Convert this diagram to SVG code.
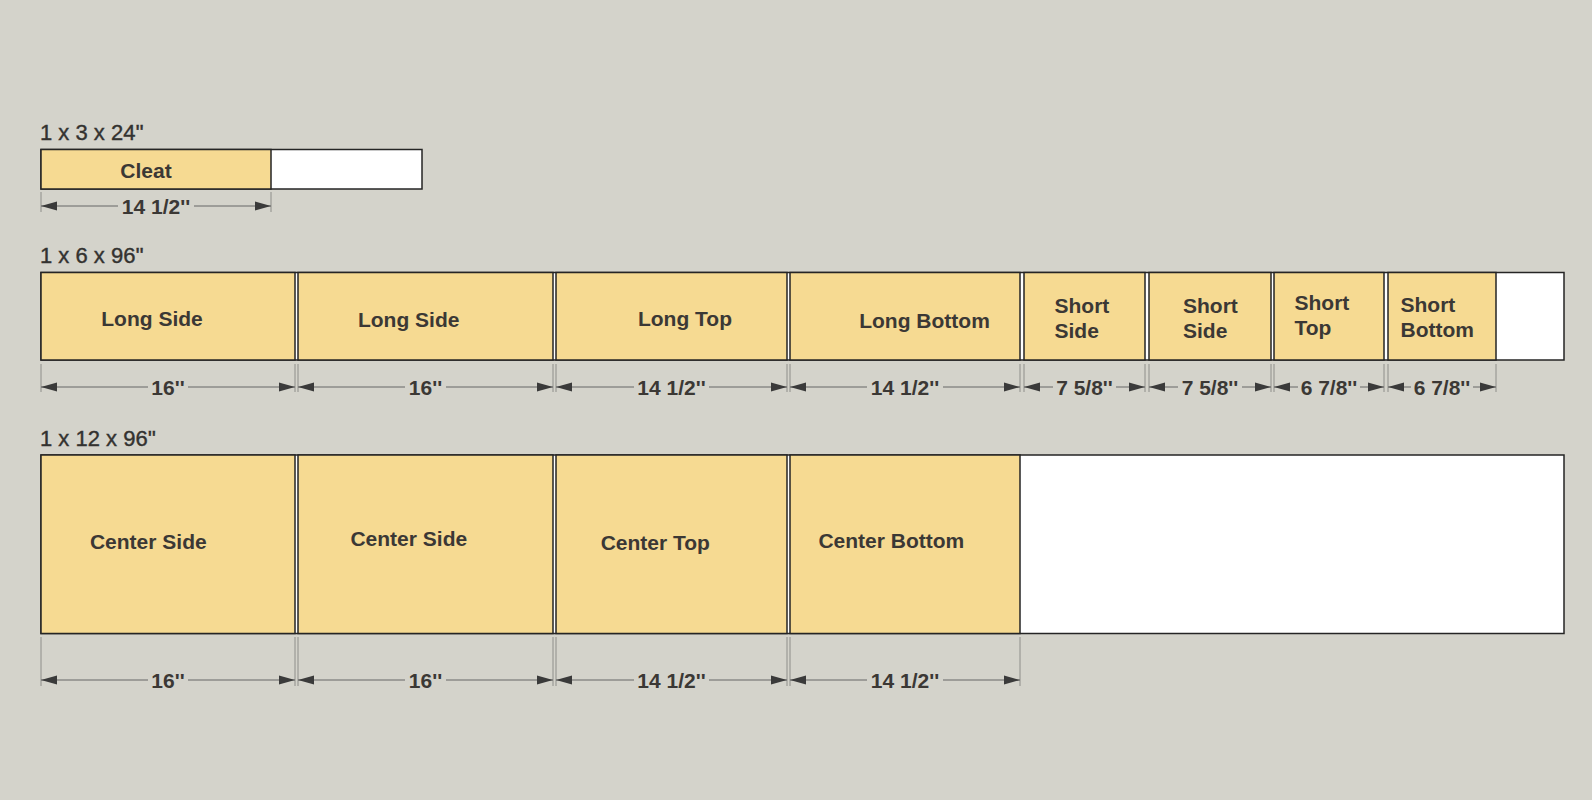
<svg xmlns="http://www.w3.org/2000/svg" width="1592" height="800" viewBox="0 0 1592 800">
<style>
.bg{fill:#d4d3cb}
.board{fill:#ffffff;stroke:#252525;stroke-width:1.5}
.piece{fill:#f6da92;stroke:#252525;stroke-width:1.5}
.title{font-family:"Liberation Sans",Arial,sans-serif;font-size:22px;fill:#333230;stroke:#333230;stroke-width:0.4}
.lbl{font-family:"Liberation Sans",Arial,sans-serif;font-weight:bold;font-size:21px;fill:#3b3835}
.dimt{font-family:"Liberation Sans",Arial,sans-serif;font-weight:bold;font-size:21px;fill:#3b3835;text-anchor:middle}
.dl{stroke:#666;stroke-width:1;fill:none;marker-start:url(#arr);marker-end:url(#arr)}
.ext{stroke:#8e8e8a;stroke-width:1}
</style>
<defs>
<marker id="arr" markerUnits="userSpaceOnUse" markerWidth="17" markerHeight="10" refX="16" refY="5" orient="auto-start-reverse">
<path d="M0,0.5 L16,5 L0,9.5 z" fill="#3a3a3a"/>
</marker>
</defs>
<rect class="bg" x="0" y="0" width="1592" height="800"/>

<g id="board-1x3x24">
<text class="title" x="40" y="140">1 x 3 x 24''</text>
<rect class="board" x="41" y="149.5" width="381" height="39.5"/>
</g>
<g id="cleat">
<rect class="piece" x="41" y="149.5" width="230" height="39.5"/>
<text class="lbl" x="146" y="178" text-anchor="middle">Cleat</text>
</g>

<g id="board-1x6x96">
<text class="title" x="40" y="263">1 x 6 x 96''</text>
<rect class="board" x="41" y="272.5" width="1523" height="87.5"/>
</g>
<g id="long-side-1">
<rect class="piece" x="41" y="272.5" width="254" height="87.5"/>
<text class="lbl" x="152" y="325.5" text-anchor="middle">Long Side</text>
</g>
<g id="long-side-2">
<rect class="piece" x="298" y="272.5" width="255" height="87.5"/>
<text class="lbl" x="408.7" y="326.5" text-anchor="middle">Long Side</text>
</g>
<g id="long-top">
<rect class="piece" x="556" y="272.5" width="231" height="87.5"/>
<text class="lbl" x="685" y="326" text-anchor="middle">Long Top</text>
</g>
<g id="long-bottom">
<rect class="piece" x="790" y="272.5" width="230" height="87.5"/>
<text class="lbl" x="924.5" y="328" text-anchor="middle">Long Bottom</text>
</g>
<g id="short-side-1">
<rect class="piece" x="1024" y="272.5" width="121" height="87.5"/>
<text class="lbl" x="1054.5" y="312.5">Short</text>
<text class="lbl" x="1054.5" y="338">Side</text>
</g>
<g id="short-side-2">
<rect class="piece" x="1149" y="272.5" width="122" height="87.5"/>
<text class="lbl" x="1183" y="312.5">Short</text>
<text class="lbl" x="1183" y="338">Side</text>
</g>
<g id="short-top">
<rect class="piece" x="1274" y="272.5" width="110" height="87.5"/>
<text class="lbl" x="1294.5" y="310">Short</text>
<text class="lbl" x="1294.5" y="335">Top</text>
</g>
<g id="short-bottom">
<rect class="piece" x="1388" y="272.5" width="108" height="87.5"/>
<text class="lbl" x="1400.5" y="311.5">Short</text>
<text class="lbl" x="1400.5" y="337">Bottom</text>
</g>

<g id="board-1x12x96">
<text class="title" x="40" y="445.5">1 x 12 x 96''</text>
<rect class="board" x="41" y="455" width="1523" height="178.5"/>
</g>
<g id="center-side-1">
<rect class="piece" x="41" y="455" width="254" height="178.5"/>
<text class="lbl" x="148.3" y="549" text-anchor="middle">Center Side</text>
</g>
<g id="center-side-2">
<rect class="piece" x="298" y="455" width="255" height="178.5"/>
<text class="lbl" x="408.8" y="546" text-anchor="middle">Center Side</text>
</g>
<g id="center-top">
<rect class="piece" x="556" y="455" width="231" height="178.5"/>
<text class="lbl" x="655.3" y="550" text-anchor="middle">Center Top</text>
</g>
<g id="center-bottom">
<rect class="piece" x="790" y="455" width="230" height="178.5"/>
<text class="lbl" x="891.3" y="548" text-anchor="middle">Center Bottom</text>
</g>

<g id="connectors">
<g id="ext-lines">
<path class="ext" d="M41,192 V212 M271,192 V212"/>
<path class="ext" d="M41,364 V392 M295,364 V392 M298,364 V392 M553,364 V392 M556,364 V392 M787,364 V392 M790,364 V392 M1020,364 V392 M1024,364 V392 M1145,364 V392 M1149,364 V392 M1271,364 V392 M1274,364 V392 M1384,364 V392 M1388,364 V392 M1496,364 V392"/>
<path class="ext" d="M41,637 V686 M295,637 V686 M298,637 V686 M553,637 V686 M556,637 V686 M787,637 V686 M790,637 V686 M1020,637 V686"/>
</g>
<path class="dl" d="M41,206 H118 M194,206 H271"/>
<path class="dl" d="M41,387 H148 M188,387 H295"/>
<path class="dl" d="M298,387 H405 M446,387 H553"/>
<path class="dl" d="M556,387 H634 M709,387 H787"/>
<path class="dl" d="M790,387 H867 M943,387 H1020"/>
<path class="dl" d="M1024,387 H1053 M1116,387 H1145"/>
<path class="dl" d="M1149,387 H1178 M1242,387 H1271"/>
<path class="dl" d="M1274,387 H1298 M1360,387 H1384"/>
<path class="dl" d="M1388,387 H1411 M1473,387 H1496"/>
<path class="dl" d="M41,680 H148 M188,680 H295"/>
<path class="dl" d="M298,680 H405 M446,680 H553"/>
<path class="dl" d="M556,680 H634 M709,680 H787"/>
<path class="dl" d="M790,680 H867 M943,680 H1020"/>
<text class="dimt" x="156" y="214">14 1/2''</text>
<text class="dimt" x="168" y="395">16''</text>
<text class="dimt" x="425.5" y="395">16''</text>
<text class="dimt" x="671.5" y="395">14 1/2''</text>
<text class="dimt" x="905" y="395">14 1/2''</text>
<text class="dimt" x="1084.5" y="395">7 5/8''</text>
<text class="dimt" x="1210" y="395">7 5/8''</text>
<text class="dimt" x="1329" y="395">6 7/8''</text>
<text class="dimt" x="1442" y="395">6 7/8''</text>
<text class="dimt" x="168" y="688">16''</text>
<text class="dimt" x="425.5" y="688">16''</text>
<text class="dimt" x="671.5" y="688">14 1/2''</text>
<text class="dimt" x="905" y="688">14 1/2''</text>
</g>
</svg>
